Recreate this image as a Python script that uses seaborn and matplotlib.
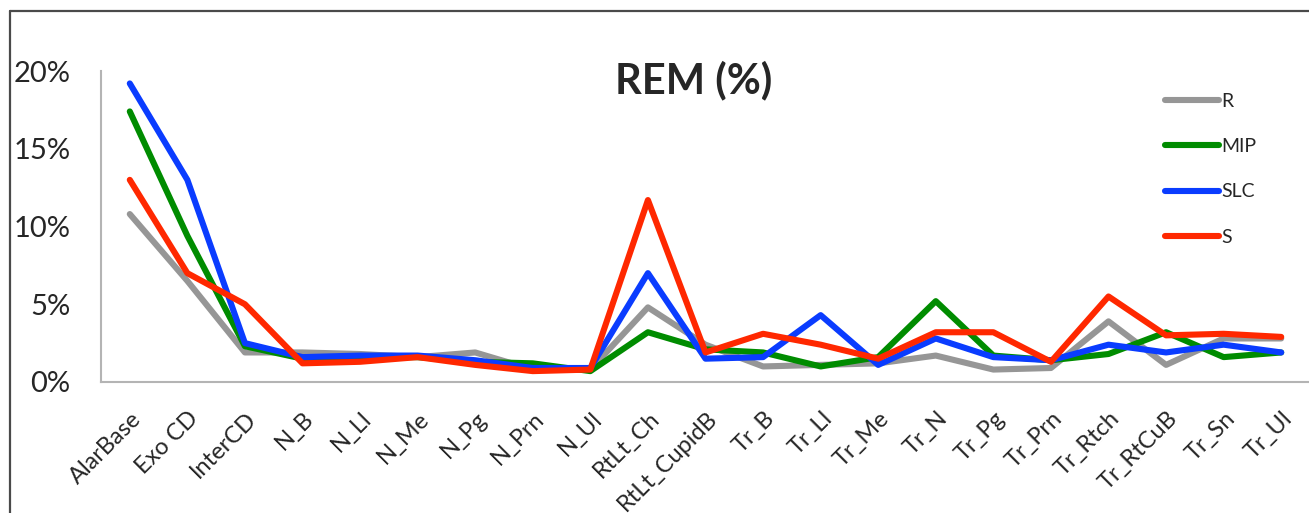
import matplotlib
matplotlib.use("Agg")
import matplotlib.pyplot as plt
from matplotlib.lines import Line2D
from matplotlib.ticker import FuncFormatter
from matplotlib.transforms import ScaledTranslation
import seaborn as sns
import pandas as pd

landmarks = ["AlarBase", "Exo CD", "InterCD", "N_B", "N_Ll", "N_Me", "N_Pg",
             "N_Prn", "N_Ul", "RtLt_Ch", "RtLt_CupidB", "Tr_B", "Tr_Ll", "Tr_Me",
             "Tr_N", "Tr_Pg", "Tr_Prn", "Tr_Rtch", "Tr_RtCuB", "Tr_Sn", "Tr_Ul"]

# REM values, in percent
rem_R   = [10.8, 6.5, 1.9, 1.9, 1.8, 1.6, 1.9, 0.8, 0.8, 4.8, 2.4, 1.0, 1.1, 1.2,
           1.7, 0.8, 0.9, 3.9, 1.1, 2.8, 2.8]
rem_MIP = [17.4, 9.4, 2.3, 1.5, 1.6, 1.6, 1.3, 1.2, 0.7, 3.2, 2.1, 1.9, 1.0, 1.6,
           5.2, 1.7, 1.4, 1.8, 3.2, 1.6, 1.9]
rem_SLC = [19.2, 13.0, 2.5, 1.6, 1.7, 1.7, 1.4, 0.9, 0.9, 7.0, 1.5, 1.6, 4.3, 1.1,
           2.8, 1.6, 1.4, 2.4, 1.9, 2.4, 1.9]
rem_S   = [13.0, 7.0, 5.0, 1.2, 1.3, 1.6, 1.1, 0.7, 0.8, 11.7, 1.9, 3.1, 2.4, 1.5,
           3.2, 3.2, 1.3, 5.5, 3.0, 3.1, 2.9]

methods = ["R", "MIP", "SLC", "S"]
colors = ["#969696", "#008c00", "#0a3cff", "#ff2800"]
y_ticks = [0, 5, 10, 15, 20]

frames = []
for name, vals in zip(methods, [rem_R, rem_MIP, rem_SLC, rem_S]):
    frames.append(pd.DataFrame({"landmark": landmarks, "rem": vals, "method": name}))
df = pd.concat(frames, ignore_index=True)

sns.set_theme(style="white")
plt.rcParams["font.family"] = ["Lato", "DejaVu Sans"]

W, H = 1309, 513
fig = plt.figure(figsize=(W / 100, H / 100), dpi=100)
ax = fig.add_axes([101 / W, 1 - 382 / H, (1310 - 101) / W, (382 - 71) / H])

sns.lineplot(data=df, x="landmark", y="rem", hue="method", hue_order=methods,
             palette=colors, linewidth=4.4, sort=False, ax=ax,
             solid_capstyle="round")

ax.set_xlim(-0.5, len(landmarks) - 0.5)
ax.set_ylim(0, 20)
ax.set_yticks(y_ticks)
ax.yaxis.set_major_formatter(FuncFormatter(lambda v, p: f"{v:.0f}%"))
ax.set_xlabel("")
ax.set_ylabel("")
ax.tick_params(axis="y", length=0, pad=22, labelsize=21)
ax.tick_params(axis="x", length=0, pad=24, labelsize=17)
shift = ScaledTranslation(8 / 100, 0, fig.dpi_scale_trans)
for lbl in ax.get_xticklabels():
    lbl.set_rotation(45)
    lbl.set_ha("right")
    lbl.set_va("center")
    lbl.set_rotation_mode("anchor")
    lbl.set_transform(lbl.get_transform() + shift)

for side in ["top", "right"]:
    ax.spines[side].set_visible(False)
for side in ["left", "bottom"]:
    ax.spines[side].set_color("#b4b4b4")
    ax.spines[side].set_linewidth(1.5)

fig.text(694 / W, 1 - 93 / H, "REM (%)", ha="center", va="baseline",
         fontsize=30, fontweight="bold")

leg = ax.legend(loc="upper left", bbox_to_anchor=(1165 / W, 1 - 93 / H),
                bbox_transform=fig.transFigure, frameon=False, borderpad=0,
                borderaxespad=0, handlelength=2.8, handletextpad=0.1,
                labelspacing=1.45, fontsize=14)
for h in leg.get_lines():
    h.set_linewidth(4.4)
    h.set_solid_capstyle("round")

# outer chart frame (top and left edges)
fig.add_artist(Line2D([10 / W, 10 / W], [0, 1 - 11 / H], transform=fig.transFigure,
                      color="#4a4a4a", linewidth=1.6))
fig.add_artist(Line2D([10 / W, 1], [1 - 11 / H, 1 - 11 / H], transform=fig.transFigure,
                      color="#4a4a4a", linewidth=1.6))

fig.savefig("out.png", dpi=100)
